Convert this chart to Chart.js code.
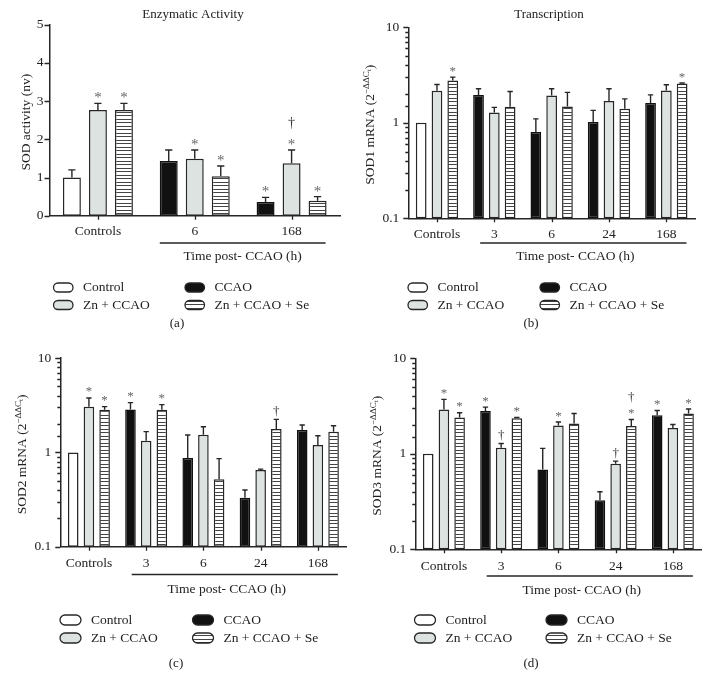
<!DOCTYPE html>
<html>
<head>
<meta charset="utf-8">
<script src="https://cdn.jsdelivr.net/npm/chart.js@4.4.1/dist/chart.umd.min.js"></script>
<style>
  body { margin: 0; background: #fff; }
  #fig { position: relative; width: 710px; height: 690px; }
  #fig canvas { position: absolute; }
</style>
</head>
<body>
<div id="fig">
  <canvas id="panelA" width="355" height="345" style="left:0;top:0"></canvas>
  <canvas id="panelB" width="355" height="345" style="left:355px;top:0"></canvas>
  <canvas id="panelC" width="355" height="345" style="left:0;top:345px"></canvas>
  <canvas id="panelD" width="355" height="345" style="left:355px;top:345px"></canvas>
</div>
<script>
const SERIF = '"Liberation Serif", "Times New Roman", serif';
Chart.defaults.font.family = SERIF;
Chart.defaults.color = '#222';

// groups and categories
const seriesNames = ['Control', 'CCAO', 'Zn + CCAO', 'Zn + CCAO + Se'];
const activityCats = ['Controls', '6', '168'];
const mrnaCats = ['Controls', '3', '6', '24', '168'];

// (a) SOD activity: mean, SEM, significance marks
const actControl = [1.00, null, null];
const actCcao    = [null, 1.43, 0.36];
const actZn      = [2.77, 1.49, 1.37];
const actZnSe    = [2.77, 1.03, 0.39];
const actControlErr = [0.20, null, null];
const actCcaoErr    = [null, 0.29, 0.12];
const actZnErr      = [0.17, 0.23, 0.35];
const actZnSeErr    = [0.17, 0.27, 0.11];
const actCcaoMarks  = ['', '', '*'];
const actZnMarks    = ['*', '*', '*†'];
const actZnSeMarks  = ['*', '*', '*'];

// (b) SOD1 mRNA
const sod1Control = [1.00, null, null, null, null];
const sod1Ccao    = [null, 1.96, 0.80, 1.02, 1.61];
const sod1Zn      = [2.16, 1.28, 1.93, 1.69, 2.18];
const sod1ZnSe    = [2.77, 1.47, 1.48, 1.40, 2.58];
const sod1CcaoErr = [null, 0.31, 0.30, 0.33, 0.35];
const sod1ZnErr   = [0.36, 0.17, 0.34, 0.58, 0.32];
const sod1ZnSeErr = [0.24, 0.66, 0.60, 0.38, 0.03];
const sod1ZnSeMarks = ['*', '', '', '', '*'];

// (c) SOD2 mRNA
const sod2Control = [1.00, null, null, null, null];
const sod2Ccao    = [null, 2.85, 0.87, 0.33, 1.73];
const sod2Zn      = [3.04, 1.33, 1.54, 0.65, 1.20];
const sod2ZnSe    = [2.83, 2.83, 0.52, 1.77, 1.66];
const sod2CcaoErr = [null, 0.52, 0.66, 0.07, 0.22];
const sod2ZnErr   = [0.74, 0.33, 0.33, 0.015, 0.30];
const sod2ZnSeErr = [0.23, 0.38, 0.34, 0.47, 0.26];
const sod2CcaoMarks = ['', '*', '', '', ''];
const sod2ZnMarks   = ['*', '', '', '', ''];
const sod2ZnSeMarks = ['*', '*', '', '†', ''];

// (d) SOD3 mRNA
const sod3Control = [1.00, null, null, null, null];
const sod3Ccao    = [null, 2.80, 0.685, 0.327, 2.54];
const sod3Zn      = [2.91, 1.16, 1.98, 0.786, 1.86];
const sod3ZnSe    = [2.40, 2.36, 2.08, 1.96, 2.64];
const sod3CcaoErr = [null, 0.28, 0.455, 0.073, 0.30];
const sod3ZnErr   = [0.80, 0.12, 0.17, 0.052, 0.17];
const sod3ZnSeErr = [0.29, 0.04, 0.56, 0.33, 0.30];
const sod3CcaoMarks = ['', '*', '', '', '*'];
const sod3ZnMarks   = ['*', '†', '*', '†', ''];
const sod3ZnSeMarks = ['*', '*', '', '*†', '*'];

const INK = '#262626';
const GREY_FILL = '#dde3e0';

function stripePattern() {
  const c = document.createElement('canvas');
  c.width = 8; c.height = 7;
  const g = c.getContext('2d');
  g.fillStyle = '#fff'; g.fillRect(0, 0, 8, 7);
  g.fillStyle = '#444';
  g.fillRect(0, 0, 8, 1);
  g.fillRect(0, 3, 8, 1);
  return g.createPattern(c, 'repeat');
}
const STRIPES = stripePattern();
const fills = ['#ffffff', '#111111', GREY_FILL, STRIPES];
const edges = [INK, '#111111', INK, INK];

function buildDatasets(vals, errs, marks) {
  return seriesNames.map((name, k) => ({
    label: name,
    data: vals[k],
    errors: errs[k],
    marks: marks[k],
    backgroundColor: fills[k],
    borderColor: edges[k],
    borderWidth: 1.5,
    borderSkipped: false
  }));
}

function isDecade(v) {
  const l = Math.log10(v);
  return Math.abs(l - Math.round(l)) < 1e-6;
}

function drawMark(ctx, ch, x, cy, o) {
  ctx.font = (ch === '*' ? o.starSize : o.daggerSize) + 'px ' + SERIF;
  ctx.fillStyle = ch === '*' ? '#666' : '#333';
  ctx.textAlign = 'center';
  ctx.textBaseline = 'alphabetic';
  const m = ctx.measureText(ch);
  const base = cy + (m.actualBoundingBoxAscent - m.actualBoundingBoxDescent) / 2;
  ctx.fillText(ch, x, base);
}

// error bars and significance symbols
const barExtras = {
  id: 'barExtras',
  afterDatasetsDraw(chart, args, o) {
    const ctx = chart.ctx, ys = chart.scales.y;
    ctx.save();
    chart.data.datasets.forEach((ds, i) => {
      chart.getDatasetMeta(i).data.forEach((bar, j) => {
        const v = ds.data[j];
        if (v == null) return;
        const e = ds.errors ? ds.errors[j] : null;
        let top = bar.y;
        if (e) {
          const ey = ys.getPixelForValue(v + e);
          const cap = bar.width * o.capRatio;
          ctx.strokeStyle = INK; ctx.lineWidth = 1.4;
          ctx.beginPath();
          ctx.moveTo(bar.x, bar.y); ctx.lineTo(bar.x, ey);
          ctx.moveTo(bar.x - cap / 2, ey); ctx.lineTo(bar.x + cap / 2, ey);
          ctx.stroke();
          top = ey;
        }
        const m = ds.marks ? ds.marks[j] : '';
        let cy = top - o.markGap;
        for (const ch of (m || '')) {
          drawMark(ctx, ch, bar.x, cy, o);
          cy -= o.markStep;
        }
      });
    });
    ctx.restore();
  }
};

function pill(ctx, x, y, w, h) {
  const r = h / 2;
  ctx.beginPath();
  ctx.moveTo(x + r, y);
  ctx.lineTo(x + w - r, y);
  ctx.arc(x + w - r, y + r, r, -Math.PI / 2, Math.PI / 2);
  ctx.lineTo(x + r, y + h);
  ctx.arc(x + r, y + r, r, Math.PI / 2, Math.PI * 1.5);
  ctx.closePath();
}

function drawYTitle(ctx, parts, cx, cy) {
  ctx.save();
  ctx.translate(cx, cy);
  ctx.rotate(-Math.PI / 2);
  ctx.fillStyle = '#222';
  ctx.textAlign = 'left';
  ctx.textBaseline = 'alphabetic';
  const fontOf = p => (p.size || 13.5) + 'px ' + SERIF;
  let total = 0;
  parts.forEach(p => { ctx.font = fontOf(p); total += ctx.measureText(p.t).width; });
  let x = -total / 2;
  parts.forEach(p => {
    ctx.font = fontOf(p);
    ctx.fillText(p.t, x, 4.5 - (p.rise || 0));
    x += ctx.measureText(p.t).width;
  });
  ctx.restore();
}

// ticks, titles, group line, legend and panel letter
const figureDeco = {
  id: 'figureDeco',
  afterDraw(chart, args, o) {
    const ctx = chart.ctx, area = chart.chartArea;
    const xs = chart.scales.x, ys = chart.scales.y;
    ctx.save();
    ctx.strokeStyle = INK; ctx.lineWidth = 1.3;
    ctx.beginPath();
    ys.ticks.forEach(t => {
      const py = Math.round(ys.getPixelForValue(t.value)) + 0.5;
      const len = (!o.log || isDecade(t.value)) ? 5 : 3;
      ctx.moveTo(area.left - len, py); ctx.lineTo(area.left, py);
    });
    xs.ticks.forEach((t, i) => {
      const px = Math.round(xs.getPixelForTick(i)) + 0.5;
      ctx.moveTo(px, area.bottom); ctx.lineTo(px, area.bottom + 4);
    });
    ctx.stroke();

    ctx.fillStyle = '#222';
    if (o.title) {
      ctx.font = '13px ' + SERIF;
      ctx.textAlign = 'center'; ctx.textBaseline = 'alphabetic';
      ctx.fillText(o.title, o.titleX, o.titleY);
    }
    drawYTitle(ctx, o.yTitle, area.left - o.yTitleOffset, (area.top + area.bottom) / 2 + 2);

    const n = xs.ticks.length;
    const first = chart.getDatasetMeta(1).data[1];
    const last = chart.getDatasetMeta(3).data[n - 1];
    const x1 = first.x - first.width / 2 + o.lineInset;
    const x2 = last.x + last.width / 2 - 1;
    ctx.lineWidth = 1.4;
    ctx.beginPath(); ctx.moveTo(x1, o.lineY); ctx.lineTo(x2, o.lineY); ctx.stroke();
    ctx.font = '13.5px ' + SERIF;
    ctx.textAlign = 'center'; ctx.textBaseline = 'middle';
    ctx.fillText('Time post- CCAO (h)', (x1 + x2) / 2 + o.captionShift, o.captionY);

    const slots = [[0, 0], [1, 0], [0, 1], [1, 1]];
    chart.data.datasets.forEach((ds, k) => {
      const [col, row] = slots[k];
      const ox = o.legendCols[col], ty = o.legendRows[row];
      pill(ctx, ox, ty - o.pillH / 2, o.pillW, o.pillH);
      ctx.fillStyle = ds.backgroundColor; ctx.fill();
      ctx.strokeStyle = INK; ctx.lineWidth = 1.3; ctx.stroke();
      ctx.fillStyle = '#222';
      ctx.textAlign = 'left'; ctx.textBaseline = 'middle';
      ctx.font = '13.5px ' + SERIF;
      ctx.fillText(ds.label, ox + o.pillW + 10, ty);
    });

    ctx.font = '13px ' + SERIF;
    ctx.textAlign = 'center';
    ctx.fillText(o.letter, o.letterX, o.letterY);
    ctx.restore();
  }
};

function makePanel(id, p) {
  new Chart(document.getElementById(id), {
    type: 'bar',
    data: { labels: p.labels, datasets: buildDatasets(p.vals, p.errs, p.marks) },
    options: {
      responsive: false,
      animation: false,
      layout: { padding: p.padding },
      datasets: { bar: { skipNull: true, categoryPercentage: p.catPct, barPercentage: p.barPct } },
      plugins: {
        legend: { display: false },
        tooltip: { enabled: false },
        barExtras: p.marksStyle,
        figureDeco: Object.assign({ log: p.log }, p.deco)
      },
      scales: {
        x: {
          offset: true,
          grid: { display: false, tickLength: 4 },
          border: { color: INK, width: 1.5 },
          ticks: { padding: p.xPad, font: { size: 13.5 }, color: '#222' },
          afterFit: s => { s.height = 40; }
        },
        y: {
          type: p.log ? 'logarithmic' : 'linear',
          min: p.min, max: p.max,
          grid: { display: false, tickLength: 4 },
          border: { color: INK, width: 1.5 },
          ticks: p.log ? {
            autoSkip: false, padding: 5, font: { size: 13.5 }, color: '#222',
            callback: v => isDecade(v) ? String(v) : ''
          } : { stepSize: 1, padding: 2, font: { size: 13.5 }, color: '#222' },
          afterFit: s => { s.width = 45; }
        }
      }
    },
    plugins: [barExtras, figureDeco]
  });
}

const mrnaTitle = gene => [
  { t: gene + ' mRNA (2' },
  { t: '\u2212\u0394\u0394C', size: 9, rise: 5 },
  { t: 't', size: 7, rise: 3 },
  { t: ')' }
];

makePanel('panelA', {
  labels: activityCats, log: false, min: 0, max: 5, xPad: 4,
  vals: [actControl, actCcao, actZn, actZnSe],
  errs: [actControlErr, actCcaoErr, actZnErr, actZnSeErr],
  marks: [null, actCcaoMarks, actZnMarks, actZnSeMarks],
  padding: { left: 4.5, top: 24.7, right: 15, bottom: 89.3 },
  catPct: 0.806, barPct: 0.69,
  marksStyle: { capRatio: 0.4, markGap: 8, markStep: 19, starSize: 15, daggerSize: 14 },
  deco: {
    title: 'Enzymatic Activity', titleX: 193, titleY: 18,
    yTitle: [{ t: 'SOD activity (nv)' }], yTitleOffset: 24.5,
    lineInset: 0, lineY: 243, captionY: 256.5, captionShift: 0,
    legendCols: [53.5, 185], legendRows: [287.5, 305], pillW: 19.5, pillH: 9,
    letter: '(a)', letterX: 177, letterY: 324
  }
});

makePanel('panelB', {
  labels: mrnaCats, log: true, min: 0.1, max: 10, xPad: 4,
  vals: [sod1Control, sod1Ccao, sod1Zn, sod1ZnSe],
  errs: [null, sod1CcaoErr, sod1ZnErr, sod1ZnSeErr],
  marks: [null, null, null, sod1ZnSeMarks],
  padding: { left: 8.3, top: 27.3, right: 15, bottom: 86.7 },
  catPct: 0.826, barPct: 0.68,
  marksStyle: { capRatio: 0.5, markGap: 8, markStep: 13.5, starSize: 13, daggerSize: 13 },
  deco: {
    title: 'Transcription', titleX: 194, titleY: 18,
    yTitle: mrnaTitle('SOD1'), yTitleOffset: 38.8,
    lineInset: 7, lineY: 243, captionY: 256.5, captionShift: -8,
    legendCols: [53, 185], legendRows: [287.5, 305], pillW: 19.5, pillH: 9,
    letter: '(b)', letterX: 176, letterY: 324
  }
});

makePanel('panelC', {
  labels: mrnaCats, log: true, min: 0.1, max: 10, xPad: 5,
  vals: [sod2Control, sod2Ccao, sod2Zn, sod2ZnSe],
  errs: [null, sod2CcaoErr, sod2ZnErr, sod2ZnSeErr],
  marks: [null, sod2CcaoMarks, sod2ZnMarks, sod2ZnSeMarks],
  padding: { left: 15.3, top: 10, right: 8.5, bottom: 103.3 },
  catPct: 0.822, barPct: 0.675,
  marksStyle: { capRatio: 0.5, markGap: 8, markStep: 13.5, starSize: 13, daggerSize: 13 },
  deco: {
    yTitle: mrnaTitle('SOD2'), yTitleOffset: 39.3,
    lineInset: 6.5, lineY: 229.5, captionY: 244, captionShift: -8,
    legendCols: [60, 192.5], legendRows: [275, 293], pillW: 21, pillH: 10,
    letter: '(c)', letterX: 176, letterY: 319
  }
});

makePanel('panelD', {
  labels: mrnaCats, log: true, min: 0.1, max: 10, xPad: 5,
  vals: [sod3Control, sod3Ccao, sod3Zn, sod3ZnSe],
  errs: [null, sod3CcaoErr, sod3ZnErr, sod3ZnSeErr],
  marks: [null, sod3CcaoMarks, sod3ZnMarks, sod3ZnSeMarks],
  padding: { left: 15.3, top: 13.3, right: 8.5, bottom: 100.7 },
  catPct: 0.822, barPct: 0.675,
  marksStyle: { capRatio: 0.5, markGap: 8, markStep: 13.5, starSize: 13, daggerSize: 13 },
  deco: {
    yTitle: mrnaTitle('SOD3'), yTitleOffset: 39.3,
    lineInset: 6.5, lineY: 231, captionY: 245, captionShift: -8,
    legendCols: [59.5, 191], legendRows: [275, 293], pillW: 21, pillH: 10,
    letter: '(d)', letterX: 176, letterY: 319
  }
});
</script>
</body>
</html>
